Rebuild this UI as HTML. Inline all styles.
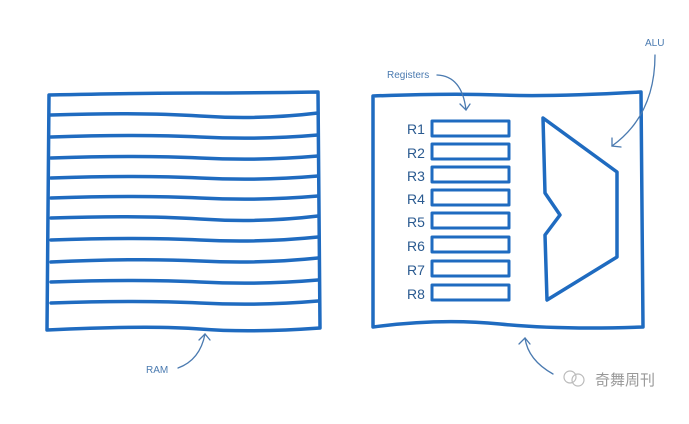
<!DOCTYPE html>
<html><head><meta charset="utf-8"><style>
html,body{margin:0;padding:0;background:#fff;}
svg{display:block;}
text{font-family:"Liberation Sans","Noto Sans CJK SC",sans-serif;}
</style></head><body>
<svg width="689" height="424" viewBox="0 0 689 424" xmlns="http://www.w3.org/2000/svg">
<g fill="none" stroke="#1f6bc0" stroke-width="3.5" stroke-linecap="round" stroke-linejoin="round">
<!-- RAM -->
<path d="M49 95 Q150 93 200 93 T318 92 L320 328 Q250 333 200 329 T47 330 Z"/>
<path d="M51 115 Q140 112 200 116 T318 113"/>
<path d="M51 137 Q140 134 200 137 T318 135"/>
<path d="M51 158 Q140 155 200 158 T318 156"/>
<path d="M51 178 Q140 175 200 178 T318 176"/>
<path d="M51 198 Q140 195 200 198 T318 196"/>
<path d="M51 218 Q140 215 200 219 T318 216"/>
<path d="M51 240 Q140 237 200 240 T318 237"/>
<path d="M51 262 Q140 258 200 261 T318 258"/>
<path d="M51 282 Q140 279 200 282 T318 280"/>
<path d="M51 303 Q140 300 200 303 T318 301"/>
<!-- CPU -->
<path d="M373 96 Q450 93 500 95 T641 92 L643 327 Q560 330 500 324 T373 327 Z"/>
<g stroke-width="3">
<rect x="432" y="121" width="77" height="15"/>
<rect x="432" y="144" width="77" height="15"/>
<rect x="432" y="167" width="77" height="15"/>
<rect x="432" y="190" width="77" height="15"/>
<rect x="432" y="213" width="77" height="15"/>
<rect x="432" y="237" width="77" height="15"/>
<rect x="432" y="261" width="77" height="15"/>
<rect x="432" y="285" width="77" height="15"/>
</g>
<path d="M543 118 L617 172 L617 257 L547 300 L545 235 L560 215 L545 193 Z"/>
</g>
<g fill="none" stroke="#4a7ab0" stroke-width="1.3" stroke-linecap="round">
<path d="M437 75 Q462 76 466 110"/><path d="M460 104 L466 110 L470 104"/>
<path d="M655 55 Q655 115 612 146"/><path d="M612 138 L612 146 L621 147"/>
<path d="M178 368 Q200 360 205 334"/><path d="M199 340 L205 334 L210 340"/>
<path d="M553 374 Q528 360 525 338"/><path d="M519 344 L525 338 L530 344"/>
</g>
<g fill="#4a7ab0" font-size="10">
<text x="387" y="78">Registers</text>
<text x="645" y="46">ALU</text>
<text x="146" y="373">RAM</text>
</g>
<g fill="#2a5a90" font-size="14">
<text x="407" y="134">R1</text>
<text x="407" y="158">R2</text>
<text x="407" y="181">R3</text>
<text x="407" y="204">R4</text>
<text x="407" y="227">R5</text>
<text x="407" y="251">R6</text>
<text x="407" y="275">R7</text>
<text x="407" y="299">R8</text>
</g>
<circle cx="570" cy="377" r="6" fill="none" stroke="#bbb" stroke-width="1.2"/>
<circle cx="578" cy="380" r="6" fill="none" stroke="#bbb" stroke-width="1.2"/>
<text x="595" y="385" font-size="15" fill="#999">奇舞周刊</text>
</svg>
</body></html>
